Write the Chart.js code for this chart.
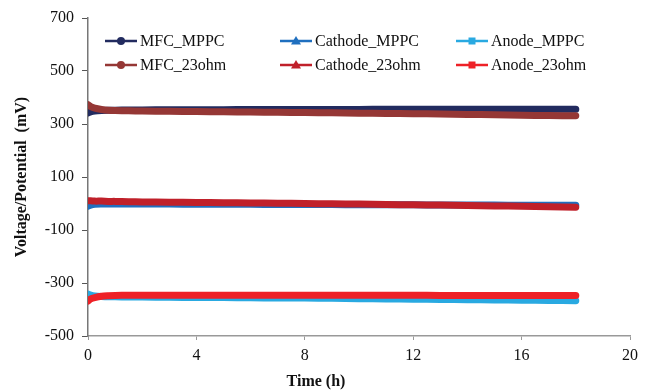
<!DOCTYPE html>
<html>
<head>
<meta charset="utf-8">
<script src="https://cdn.jsdelivr.net/npm/chart.js@4.4.1/dist/chart.umd.min.js"></script>
<style>
  html, body { margin: 0; padding: 0; background: #fff; }
  #wrap { width: 645px; height: 391px; position: relative; }
</style>
</head>
<body>
<div id="wrap"><canvas id="chart" width="645" height="391"></canvas></div>
<script>
// Datos (tiempo en horas, mV)
const timeH = [0, 0.1, 0.25, 0.5, 0.75, 1, 1.5, 2, 3, 4, 5, 6, 7, 8, 9, 10, 11, 12, 13, 14, 15, 16, 17, 18];

const mfcMppc      = [342, 346, 349, 351, 352, 352, 353, 353, 354, 354, 354, 355, 355, 355, 355, 355, 356, 356, 356, 356, 356, 356, 356, 356];
const mfc23ohm     = [373, 366, 360, 355, 352, 351, 350, 349, 348, 347, 346, 345, 344, 343, 342, 341, 340, 339, 338, 336, 335, 333, 332, 331];
const cathodeMppc  = [-10, -6, -3, -2, -2, -2, -2, -2, -2, -3, -3, -3, -4, -4, -4, -5, -5, -5, -6, -6, -6, -7, -7, -7];
const cathode23ohm = [10, 10, 9, 9, 8, 8, 7, 6, 5, 4, 3, 2, 1, 0, -1, -2, -4, -5, -6, -8, -9, -10, -12, -14];
const anodeMppc    = [-342, -346, -349, -351, -352, -352, -353, -353, -354, -355, -355, -356, -357, -357, -358, -359, -360, -361, -362, -363, -364, -365, -366, -367];
const anode23ohm   = [-368, -360, -355, -350, -348, -347, -346, -346, -346, -346, -346, -346, -346, -346, -346, -346, -346, -346, -347, -347, -347, -347, -347, -347];

const seriesNames = ['MFC_MPPC', 'Cathode_MPPC', 'Anode_MPPC', 'MFC_23ohm', 'Cathode_23ohm', 'Anode_23ohm'];
const seriesData = [mfcMppc, cathodeMppc, anodeMppc, mfc23ohm, cathode23ohm, anode23ohm];
const seriesColors = ['#222b5f', '#1f6fbf', '#29a9e1', '#953735', '#c0202a', '#ee2127'];
const seriesMarkers = ['circle', 'triangle', 'rect', 'circle', 'triangle', 'rect'];
const seriesOrder = [2, 2, 2, 1, 1, 1];

const FONT = '"Liberation Serif", "Times New Roman", serif';

const datasets = seriesNames.map((name, i) => ({
  label: name,
  data: timeH.map((t, k) => ({ x: t, y: seriesData[i][k] })),
  borderColor: seriesColors[i],
  backgroundColor: seriesColors[i],
  borderWidth: 7,
  borderCapStyle: 'round',
  borderJoinStyle: 'round',
  pointRadius: 0,
  tension: 0.3,
  order: seriesOrder[i]
}));

// leyenda propia en 3 columnas + título del eje X
const legendPlugin = {
  id: 'gridLegend',
  afterDraw(chart) {
    const ctx = chart.ctx;
    const cols = [105, 280, 456];
    const rows = [41, 65];
    ctx.save();
    ctx.font = '16px ' + FONT;
    ctx.textBaseline = 'middle';
    seriesNames.forEach((name, i) => {
      const x = cols[i % 3];
      const y = rows[Math.floor(i / 3)];
      ctx.strokeStyle = seriesColors[i];
      ctx.fillStyle = seriesColors[i];
      ctx.lineWidth = 2.5;
      ctx.beginPath();
      ctx.moveTo(x, y);
      ctx.lineTo(x + 32, y);
      ctx.stroke();
      const cx = x + 16;
      ctx.beginPath();
      if (seriesMarkers[i] === 'circle') {
        ctx.arc(cx, y, 4, 0, Math.PI * 2);
      } else if (seriesMarkers[i] === 'triangle') {
        ctx.moveTo(cx, y - 5);
        ctx.lineTo(cx + 5, y + 3.5);
        ctx.lineTo(cx - 5, y + 3.5);
        ctx.closePath();
      } else {
        ctx.rect(cx - 3.5, y - 3.5, 7, 7);
      }
      ctx.fill();
      ctx.fillStyle = '#111';
      ctx.fillText(name, x + 35, y + 1);
    });
    ctx.font = 'bold 16px ' + FONT;
    ctx.textAlign = 'center';
    ctx.fillText('Time (h)', 316, 382);
    ctx.restore();
  }
};

new Chart(document.getElementById('chart'), {
  type: 'line',
  data: { datasets },
  plugins: [legendPlugin],
  options: {
    responsive: false,
    animation: false,
    layout: { padding: { top: 18, right: 15, left: 8, bottom: 0 } },
    plugins: { legend: { display: false }, tooltip: { enabled: false } },
    scales: {
      x: {
        type: 'linear',
        min: 0,
        max: 20,
        ticks: { stepSize: 4, color: '#111', font: { family: FONT, size: 16 }, padding: 6 },
        grid: { drawOnChartArea: false, drawTicks: true, tickLength: 4, tickColor: '#999' },
        border: { color: '#999', width: 1.5 },
        afterFit(scale) { scale.height = 55; }
      },
      y: {
        min: -500,
        max: 700,
        ticks: { stepSize: 200, color: '#111', font: { family: FONT, size: 16 }, padding: 8 },
        grid: { drawOnChartArea: false, drawTicks: true, tickLength: 6, tickColor: '#555' },
        border: { color: '#777', width: 1.5 },
        title: { display: true, text: 'Voltage/Potential  (mV)', color: '#111', font: { family: FONT, size: 16, weight: 'bold' }, padding: { bottom: 4 } },
        afterFit(scale) { scale.width = 80; }
      }
    }
  }
});
</script>
</body>
</html>
